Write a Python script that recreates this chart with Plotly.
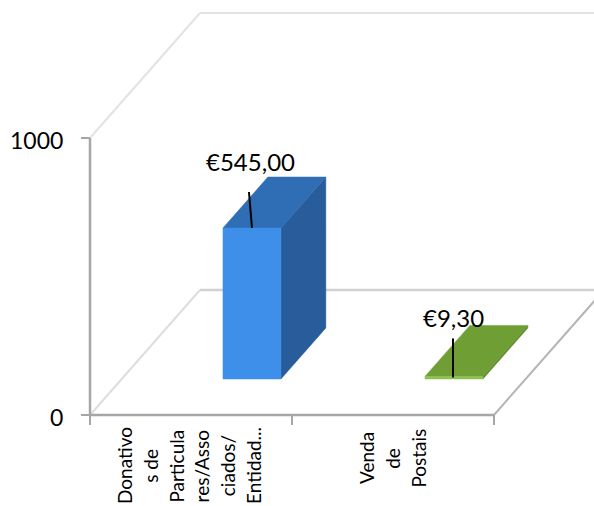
import plotly.graph_objects as go

categories = [["Donativo", "s de", "Particula", "res/Asso", "ciados/", "Entidad..."], ["Venda", "de", "Postais"]]
values = [545.0, 9.3]
value_labels = ["€545,00", "€9,30"]
y_ticks = [0, 1000]

# Oblique projection of the 3D chart box
OX, OY = 90, 415
CAT_W = 202
DX, DY = 110, -125
PX_PER_UNIT = 0.277
BAR_X0, BAR_W = 0.5015, 0.287
D0, D1 = 0.288, 0.696


def P(cat, depth, val):
    return (OX + cat * CAT_W + depth * DX, OY + depth * DY - val * PX_PER_UNIT)


fig = go.Figure()


def poly(pts, color):
    fig.add_trace(go.Scatter(x=[p[0] for p in pts] + [pts[0][0]], y=[p[1] for p in pts] + [pts[0][1]],
                             mode="lines", fill="toself", fillcolor=color,
                             line=dict(color=color, width=0.5), hoverinfo="skip", showlegend=False))


def seg(a, b, color, width=1.5):
    fig.add_trace(go.Scatter(x=[a[0], b[0]], y=[a[1], b[1]], mode="lines",
                             line=dict(color=color, width=width), hoverinfo="skip", showlegend=False))


n = len(categories)
top = y_ticks[-1]
# walls and floor
seg(P(0, 0, top), P(0, 1, top), "#E3E3E3", 2)
seg(P(0, 1, top), P(n + 1, 1, top), "#E3E3E3", 2)
seg(P(0, 0, 0), P(0, 1, 0), "#DEDEDE", 2)
seg(P(0, 1, 0), P(n + 1, 1, 0), "#D0D0D0", 2.5)
seg(P(n, 0, 0), P(n, 1, 0), "#B5B5B5", 2)
# axes
seg(P(0, 0, 0), P(0, 0, top), "#A6A6A6", 2.5)
seg(P(0, 0, 0), P(n, 0, 0), "#A6A6A6", 2.5)
for t in y_ticks:
    a = P(0, 0, t)
    seg((a[0] - 9, a[1]), a, "#A6A6A6", 2)
for c in range(n + 1):
    a = P(c, 0, 0)
    seg(a, (a[0], a[1] + 10), "#A6A6A6", 2)

styles = [("#3D8FEA", "#2F6DB5", "#285C9A"), ("#8CC152", "#6F9E35", "#5F8A2C")]
for i, v in enumerate(values):
    x0, x1 = i + BAR_X0, i + BAR_X0 + BAR_W
    front, tp, side = styles[i]
    poly([P(x1, D0, 0), P(x1, D1, 0), P(x1, D1, v), P(x1, D0, v)], side)
    poly([P(x0, D0, v), P(x1, D0, v), P(x1, D1, v), P(x0, D1, v)], tp)
    poly([P(x0, D0, 0), P(x1, D0, 0), P(x1, D0, v), P(x0, D0, v)], front)

# data labels with leader lines
tip = P(BAR_X0 + BAR_W / 2, D0, values[0])
seg((tip[0] - 3, tip[1] - 36), tip, "#000000", 2)
tip2 = P(1 + BAR_X0 + BAR_W / 2, D0, values[1])
seg((tip2[0] - 1, tip2[1] - 38), (tip2[0] - 1, tip2[1] + 1), "#000000", 2)

FONT = "Lato"
ann = []
ann.append(dict(x=tip[0] - 1, y=tip[1] - 67, text=value_labels[0], size=24))
ann.append(dict(x=tip2[0], y=tip2[1] - 59, text=value_labels[1], size=24))
for t in y_ticks:
    p = P(0, 0, t)
    ann.append(dict(x=p[0] - 25, y=p[1] + 2, text=str(t), xanchor="right", size=23))
annotations = []
for a in ann:
    size = a.pop("size")
    annotations.append(dict(a, xref="x", yref="y", showarrow=False, font=dict(family=FONT, size=size, color="#000000")))

line_starts = [125, 367]
for i, lines in enumerate(categories):
    mid = 466 if i == 0 else 458
    for j, s in enumerate(lines):
        annotations.append(dict(x=line_starts[i] - 1 + j * 25.8, y=mid, text=s, textangle=-90, xref="x", yref="y",
                                showarrow=False, font=dict(family=FONT, size=19, color="#000000")))

fig.update_layout(
    width=594, height=506, margin=dict(l=0, r=0, t=0, b=0),
    paper_bgcolor="white", plot_bgcolor="white", showlegend=False,
    xaxis=dict(range=[0, 594], visible=False, fixedrange=True),
    yaxis=dict(range=[506, 0], visible=False, fixedrange=True),
    annotations=annotations,
)
fig.write_html("out.html", config=dict(displayModeBar=False),
               post_script="document.body.style.margin='0';document.documentElement.style.overflow='hidden';")
